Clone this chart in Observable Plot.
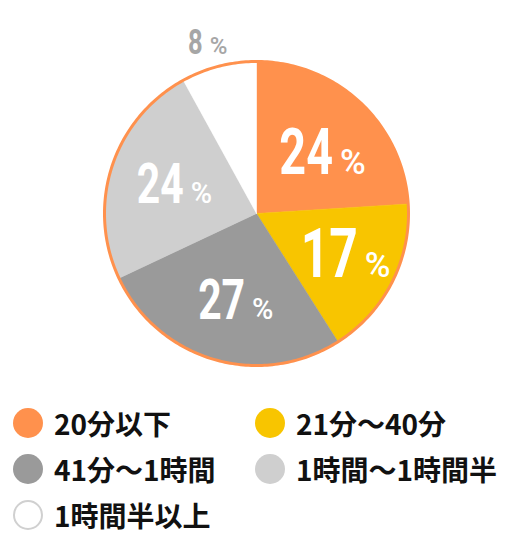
<!DOCTYPE html>
<html><head><meta charset="utf-8">
<script src="https://cdn.jsdelivr.net/npm/d3@7"></script>
<script src="https://cdn.jsdelivr.net/npm/@observablehq/plot@0.6"></script>
<style>
body{margin:0;background:#fff;width:512px;}
#chart svg{display:block}
.legend{display:grid;grid-template-columns:242px 242px;padding-left:13px;row-gap:16px;margin-top:23px;font-family:"Noto Sans CJK JP",sans-serif;font-weight:700;font-size:28px;color:#111;}
.item{display:flex;align-items:center;height:30px;white-space:nowrap}
.sw{width:30px;height:30px;border-radius:50%;margin-right:11px;box-sizing:border-box;flex:none}
</style></head><body>
<div id="chart"></div>
<div class="legend" id="legend"></div>
<script>
const categories = ["20分以下", "21分～40分", "41分～1時間", "1時間～1時間半", "1時間半以上"];
const values = [24, 17, 27, 24, 8];
const colors = ["#FF914D", "#F8C500", "#9A9A9A", "#CFCFCF", "#FFFFFF"];
// label styling (sizes in px, small nudges in px)
const numSizes = [64, 68, 56, 56, 35];
const pctSizes = [35, 35, 29, 29, 24];
const nudgeX = [0, 6, 0, 0, 0];
const nudgeY = [6, 0, 0, 0, 0];

const total = d3.sum(values);
let acc = 0;
const slices = categories.map((c, i) => {
  const a0 = acc / total * 2 * Math.PI;
  acc += values[i];
  const a1 = acc / total * 2 * Math.PI;
  return {c, v: values[i], a0, a1, i};
});
const pts = slices.flatMap(s => {
  const n = Math.max(2, Math.ceil((s.a1 - s.a0) / (Math.PI / 180)));
  const arr = [{c: s.c, x: 0, y: 0}];
  for (let k = 0; k <= n; k++) {
    const a = s.a0 + (s.a1 - s.a0) * k / n;
    arr.push({c: s.c, x: Math.sin(a), y: Math.cos(a)});
  }
  arr.push({c: s.c, x: 0, y: 0});
  return arr;
});
const outline = d3.range(0, 361).map(d => ({x: Math.sin(d * Math.PI / 180), y: Math.cos(d * Math.PI / 180)}));

const labels = slices.map(s => {
  const mid = (s.a0 + s.a1) / 2;
  const outside = s.v < 10;
  const rr = outside ? 1.16 : 0.6;
  return {...s, x: Math.sin(mid) * rr, y: Math.cos(mid) * rr, outside, fs: numSizes[s.i], pfs: pctSizes[s.i]};
});

const numFont = 'Roboto,sans-serif';
const textMarks = labels.flatMap(d => {
  const fill = d.outside ? "#A6A6A6" : "#FFFFFF";
  const ndx = (d.outside ? -10 : 14) + nudgeX[d.i];
  const ndy = nudgeY[d.i];
  return [
    Plot.text([d], {x: "x", y: "y", text: d => String(d.v), fontSize: d.fs, fontFamily: numFont, fontWeight: "bold",
      fill, textAnchor: "end", lineAnchor: "middle", dx: ndx, dy: ndy}),
    Plot.text([d], {x: "x", y: "y", text: () => "%", fontSize: d.pfs, fontFamily: numFont, fontWeight: 500,
      fill, textAnchor: "start", lineAnchor: "middle", dx: ndx + 7, dy: ndy + 0.32 * (d.fs - d.pfs)})
  ];
});

const chart = Plot.plot({
  width: 512, height: 385,
  marginLeft: 104, marginRight: 104, marginTop: 61, marginBottom: 20,
  x: {domain: [-1, 1], axis: null},
  y: {domain: [-1, 1], axis: null},
  color: {domain: categories, range: colors},
  marks: [
    Plot.line(pts, {x: "x", y: "y", z: "c", fill: "c", stroke: "c", strokeWidth: 0.5}),
    Plot.line(outline, {x: "x", y: "y", stroke: "#FF914D", strokeWidth: 3}),
    ...textMarks
  ]
});
document.getElementById("chart").append(chart);

// condense the big numerals horizontally (no condensed face installed)
d3.select(chart).selectAll("text").filter(function() { return this.textContent.trim() !== "%" && this.textContent.trim() !== ""; }).each(function() {
  let tr = this.getAttribute("transform");
  if (!tr) {
    const x = this.getAttribute("x") || 0, y = this.getAttribute("y") || 0;
    this.removeAttribute("x"); this.removeAttribute("y");
    tr = `translate(${x},${y})`;
  }
  this.setAttribute("transform", tr + " scale(0.73,1)");
});

const legend = document.getElementById("legend");
categories.forEach((c, i) => {
  const item = document.createElement("div");
  item.className = "item";
  const sw = document.createElement("span");
  sw.className = "sw";
  sw.style.background = colors[i];
  if (colors[i] === "#FFFFFF") sw.style.border = "2px solid #D0D0D0";
  const t = document.createElement("span");
  t.textContent = c;
  item.append(sw, t);
  legend.append(item);
});
</script>
</body></html>
